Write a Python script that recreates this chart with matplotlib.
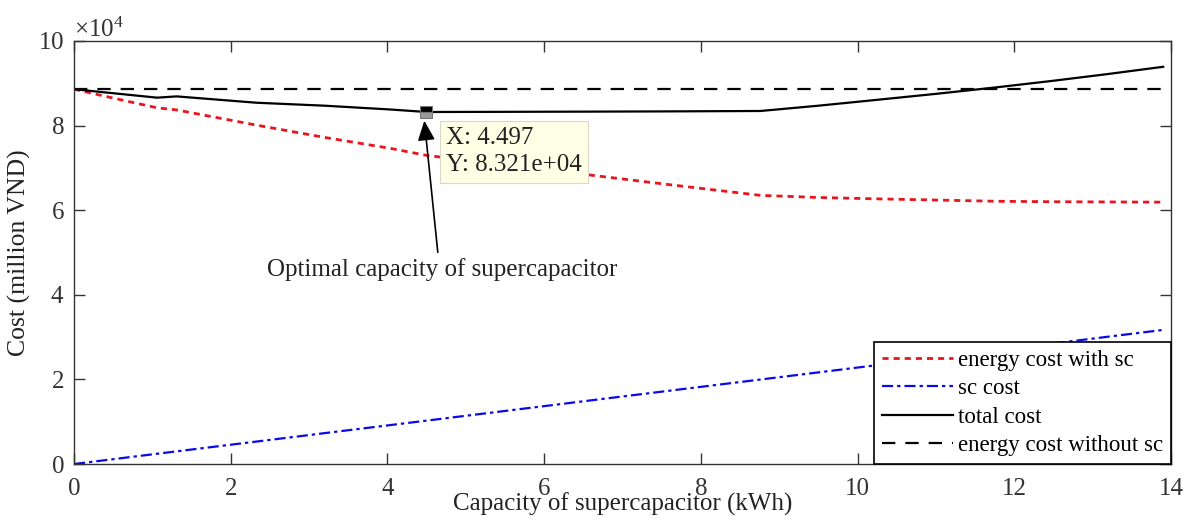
import numpy as np
import matplotlib
matplotlib.use('Agg')
import matplotlib.pyplot as plt
from matplotlib.ticker import ScalarFormatter

plt.rcParams['font.family'] = ['Liberation Serif', 'DejaVu Serif']
plt.rcParams['mathtext.fontset'] = 'custom'
plt.rcParams['mathtext.rm'] = 'Liberation Serif'
plt.rcParams['font.size'] = 18

# Data
capacity = [0, 0.5, 1.06, 1.31, 2.33, 3.2, 4.04, 4.497, 5.5, 6.59, 7.5, 8.76,
            9.5, 10.2, 11, 11.8, 12.5, 13.2, 13.9]
energy_with_sc = [88600, 86500, 84200, 83700, 80100, 77200, 74600, 72960, 70710,
                  68300, 66250, 63500, 63000, 62700, 62400, 62100, 62000, 61950, 61900]
sc_cost = [0, 1140, 2420, 2990, 5310, 7300, 9210, 10250, 12540, 15030, 17100,
           19970, 21660, 23260, 25080, 26900, 28500, 30100, 31700]
total_cost = [88600, 87650, 86600, 86900, 85400, 84700, 83800, 83210, 83250, 83300,
              83350, 83450, 84700, 86000, 87500, 89100, 90600, 92200, 93900]
energy_without_sc = [88600] * len(capacity)

opt_x = 4.497
opt_y = 83210

fig = plt.figure(figsize=(11.92, 5.22), dpi=100)
ax = fig.add_axes([0.0621, 0.1111, 0.9203, 0.8104])

ax.plot(capacity, energy_with_sc, color='#e8141e', lw=2.0,
        linestyle=(0, (2.2, 1.8)), label='energy cost with sc')
ax.plot(capacity, sc_cost, color='#0a0ae6', lw=1.6,
        linestyle=(0, (5, 1.8, 1.5, 1.8)), label='sc cost')
ax.plot(capacity, total_cost, color='black', lw=1.6, label='total cost')
ax.plot(capacity, energy_without_sc, color='black', lw=1.6,
        linestyle=(0, (6, 4.5)), label='energy cost without sc')

# data tip
ax.plot([opt_x], [opt_y], marker='s', markersize=9, fillstyle='top',
        markerfacecolor='black', markerfacecoloralt='#999999',
        markeredgecolor='#777777', markeredgewidth=0.8, zorder=5)
ax.text(4.75, 79600, f"X: {opt_x:.3f}\nY: {opt_y:.3e}", fontsize=18,
        va='top', ha='left', linespacing=1.3, color='#222222',
        bbox=dict(boxstyle='square,pad=0.25', facecolor='#ffffe6',
                  edgecolor='#d8d8c8', lw=0.8), zorder=6)

ax.annotate('', xy=(4.467, 81800), xytext=(4.646, 49400),
            arrowprops=dict(arrowstyle='-|>,head_length=0.8,head_width=0.35',
                            color='black', lw=1.2, mutation_scale=15))
ax.text(4.70, 45900, 'Optimal capacity of supercapacitor', fontsize=18,
        ha='center', va='center', color='#222222')

ax.set_xlim(0, 14)
ax.set_ylim(0, 100000)
ax.set_xticks(np.arange(0, 15, 2))
ax.set_yticks(np.arange(0, 100001, 20000))

fmt = ScalarFormatter(useMathText=True)
fmt.set_powerlimits((4, 4))
ax.yaxis.set_major_formatter(fmt)
ax.yaxis.get_offset_text().set_fontsize(18)
ax.yaxis.get_offset_text().set_color('#333333')

ax.tick_params(direction='in', length=8, width=1, top=True, right=True,
               colors='#333333', labelsize=18)
ax.tick_params(axis='x', pad=10)
ax.tick_params(axis='y', pad=7)
for s in ax.spines.values():
    s.set_color('#333333')
    s.set_linewidth(1)

ax.set_xlabel('Capacity of supercapacitor (kWh)', fontsize=18, labelpad=-5, color='#222222')
ax.set_ylabel('Cost (million VND)', fontsize=18.5, labelpad=5, color='#222222')

leg = ax.legend(loc='lower right', borderaxespad=0, fancybox=False,
                edgecolor='black', framealpha=1, handlelength=3.1,
                handletextpad=0.2, labelspacing=0.32, borderpad=0.35, fontsize=16.5)
leg.get_frame().set_linewidth(1.2)

fig.savefig('out.png', dpi=100)
